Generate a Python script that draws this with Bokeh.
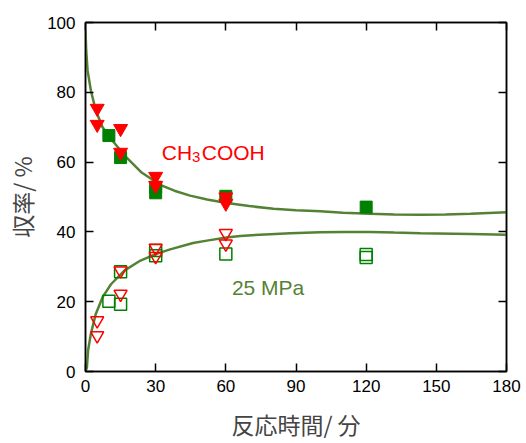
from bokeh.plotting import figure
from bokeh.models import LinearAxis, FixedTicker, Range1d, Label
from bokeh.embed import file_html
from bokeh.resources import INLINE

# --- data ---
x_ticks = [0, 30, 60, 90, 120, 150, 180]
y_ticks = [0, 20, 40, 60, 80, 100]

# filled symbols (CH3COOH)
sq_fill_t = [10, 15, 30, 30, 60, 120]
sq_fill_y = [67.6, 61.3, 52.8, 51.2, 50.2, 47.1]
tri_fill_t = [5, 5, 15, 15, 30, 30, 60, 60]
tri_fill_y = [75.4, 70.8, 69.6, 62.8, 55.9, 53.3, 50.0, 48.2]

# open symbols
sq_open_t = [10, 15, 15, 30, 30, 60, 120, 120]
sq_open_y = [20.1, 19.3, 28.6, 34.7, 33.2, 33.7, 33.5, 32.7]
tri_open_t = [5, 5, 15, 15, 30, 30, 60, 60]
tri_open_y = [14.6, 10.3, 28.9, 22.2, 35.4, 33.0, 39.6, 36.6]

# model curves
upper_t = [0, 0.3, 0.9, 2.3, 4.4, 7.3, 10.3, 17.4, 24, 31.9, 38, 44.7, 52, 60.4, 70, 80.4, 90, 100.4, 110, 121.8, 132, 143.2, 154, 164.6, 180]
upper_y = [97.7, 92.0, 86.2, 80.5, 74.8, 70.0, 67.1, 61.4, 57.0, 53.5, 51.8, 50.4, 49.3, 48.3, 47.4, 46.6, 46.2, 45.9, 45.5, 45.2, 45.0, 44.9, 45.0, 45.2, 45.6]
lower_t = [0, 0.6, 1.1, 2.3, 4.4, 7.3, 10.9, 16.6, 23, 30.3, 36.2, 46, 51.9, 60.3, 66.1, 74.6, 87.5, 100.4, 110, 121.7, 132, 143.2, 164.6, 180]
lower_y = [0, 1.2, 6.0, 10.8, 16.5, 21.3, 25.0, 28.9, 31.6, 33.7, 35.0, 36.8, 37.5, 38.4, 38.8, 39.2, 39.6, 39.9, 40.0, 40.0, 39.8, 39.6, 39.4, 39.2]

GREEN = "#008000"
OLIVE = "#548235"
RED = "#ff0000"
FONT = "Liberation Sans"
CJK = "Noto Sans CJK JP"

p = figure(width=526, height=443, output_backend="svg", toolbar_location=None,
           x_range=Range1d(0, 180), y_range=Range1d(0, 100),
           min_border_left=85, min_border_right=20, min_border_top=22, min_border_bottom=72,
           x_axis_type=None, y_axis_type=None)
p.grid.visible = False
p.outline_line_color = "black"
p.outline_line_width = 1.5
p.background_fill_color = "white"
p.border_fill_color = "white"

def style_axis(ax, labels=True):
    ax.axis_line_color = "black"
    ax.axis_line_width = 1.5
    ax.major_tick_in = 8
    ax.major_tick_out = 0
    ax.major_tick_line_color = "black"
    ax.major_tick_line_width = 1.5
    ax.minor_tick_line_color = None
    ax.major_label_text_font = FONT
    if labels:
        ax.major_label_text_font_size = "17px"
        ax.major_label_text_color = "black"
    else:
        ax.major_label_text_font_size = "1px"
        ax.major_label_text_color = None
        ax.major_label_standoff = 0

xb = LinearAxis(ticker=FixedTicker(ticks=x_ticks), axis_label="反応時間/ 分")
style_axis(xb)
xb.major_label_standoff = 8
xb.axis_label_text_font = CJK
xb.axis_label_text_font_size = "23px"
xb.axis_label_text_font_style = "normal"
xb.axis_label_standoff = 12
p.add_layout(xb, "below")

yl = LinearAxis(ticker=FixedTicker(ticks=y_ticks), axis_label="収率/ %")
style_axis(yl)
yl.major_label_standoff = 10
yl.axis_label_text_font = CJK
yl.axis_label_text_font_size = "23px"
yl.axis_label_text_font_style = "normal"
yl.axis_label_standoff = 5
p.add_layout(yl, "left")

xt = LinearAxis(ticker=FixedTicker(ticks=x_ticks))
style_axis(xt, labels=False)
p.add_layout(xt, "above")
yr = LinearAxis(ticker=FixedTicker(ticks=y_ticks))
style_axis(yr, labels=False)
p.add_layout(yr, "right")

# curves
p.line(upper_t, upper_y, line_color=OLIVE, line_width=2.5)
p.line(lower_t, lower_y, line_color=OLIVE, line_width=2.5)

# open symbols
p.scatter(sq_open_t, sq_open_y, marker="square", size=12, fill_color=None,
          line_color=GREEN, line_width=1.5)
p.scatter(tri_open_t, tri_open_y, marker="inverted_triangle", size=13, fill_color=None,
          line_color=RED, line_width=1.5)

# filled symbols
p.scatter(sq_fill_t, sq_fill_y, marker="square", size=12, fill_color=GREEN,
          line_color=GREEN, line_width=1)
p.scatter(tri_fill_t, tri_fill_y, marker="inverted_triangle", size=14, fill_color=RED,
          line_color=RED, line_width=1)

# text labels
p.add_layout(Label(x=32.6, y=62.8, text="CH", text_color=RED, text_font=FONT,
                   text_font_size="21px", text_baseline="alphabetic"))
p.add_layout(Label(x=45.5, y=61.5, text="3", text_color=RED, text_font=FONT,
                   text_font_size="15px", text_baseline="alphabetic"))
p.add_layout(Label(x=49.7, y=62.8, text="COOH", text_color=RED, text_font=FONT,
                   text_font_size="21px", text_baseline="alphabetic"))
p.add_layout(Label(x=62.6, y=24.2, text="25 MPa", text_color=OLIVE, text_font=FONT,
                   text_font_size="21px", text_baseline="alphabetic"))

open("out.html", "w").write(file_html(p, INLINE))
